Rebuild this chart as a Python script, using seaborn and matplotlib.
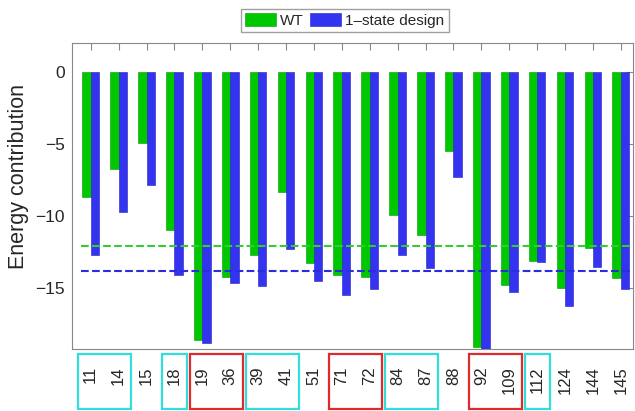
import matplotlib
matplotlib.use("Agg")
import matplotlib.pyplot as plt
from matplotlib.patches import Rectangle, Patch
import pandas as pd
import seaborn as sns

residues = ["11", "14", "15", "18", "19", "36", "39", "41", "51", "71",
            "72", "84", "87", "88", "92", "109", "112", "124", "144", "145"]
wt = [-8.7, -6.7, -4.9, -10.95, -18.6, -14.25, -12.7, -8.3, -13.25, -14.05,
      -14.25, -9.9, -11.3, -5.5, -19.1, -14.75, -13.1, -14.95, -12.2, -14.3]
design = [-12.7, -9.7, -7.85, -14.1, -18.8, -14.65, -14.85, -12.3, -14.5, -15.45,
          -15.05, -12.7, -13.6, -7.25, -19.6, -15.25, -13.2, -16.2, -13.5, -15.05]
wt_mean = -12.1
design_mean = -13.8

# residue groups boxed under the axis: (first index, last index)
cyan_groups = [(0, 1), (3, 3), (6, 7), (11, 12), (16, 16)]
red_groups = [(4, 5), (9, 10), (14, 15)]

green = "#00c800"
blue = "#3333f0"

df = pd.DataFrame({
    "residue": residues * 2,
    "energy": wt + design,
    "state": ["WT"] * len(wt) + ["1\u2013state design"] * len(design),
})

sns.set_style("white")
plt.rcParams["font.family"] = ["Liberation Sans", "DejaVu Sans"]

fig = plt.figure(figsize=(6.35, 4.11), dpi=100)
ax = fig.add_axes([0.113, 0.150, 0.884, 0.745])

sns.barplot(data=df, x="residue", y="energy", hue="state", order=residues,
            palette=[green, blue], width=0.6, saturation=1, ax=ax,
            edgecolor="none", linewidth=0)
for bars, col in zip(ax.containers, ["#009a00", "#2020c0"]):
    for b in bars:
        b.set_edgecolor(col)
        b.set_linewidth(0.4)

ax.axhline(wt_mean, xmin=0.016, color="#33cc33", ls="--", lw=1.5, zorder=5)
ax.axhline(design_mean, xmin=0.016, color="#2b2be0", ls="--", lw=1.5, zorder=5)

ax.set_xlim(-0.68, 19.44)
ax.set_ylim(-19.24, 2.0)
ax.set_yticks([0, -5, -10, -15])
ax.set_xlabel("")
ax.set_ylabel("Energy contribution", fontsize=15.5)
ax.yaxis.set_label_coords(-0.076, 0.566)
ax.tick_params(axis="y", labelsize=12.5, direction="in", length=5,
               color="#888888", pad=5, right=True)
ax.tick_params(axis="x", labelsize=12, direction="in", length=5,
               color="#888888", pad=12, top=True, labelrotation=90)
for s in ax.spines.values():
    s.set_color("#888888")
    s.set_linewidth(0.8)
    s.set_visible(True)

trans = ax.get_xaxis_transform()
for groups, col in [(cyan_groups, "#33dddd"), (red_groups, "#dd2a2a")]:
    for a, b in groups:
        ax.add_patch(Rectangle((a - 0.45, -0.195), b - a + 0.9, 0.18,
                               transform=trans, fill=False, edgecolor=col,
                               lw=1.6, clip_on=False))

ax.get_legend().remove()
handles = [Patch(facecolor=green, edgecolor="#009a00", lw=0.4),
           Patch(facecolor=blue, edgecolor="#2020c0", lw=0.4)]
fig.legend(handles, ["WT", "1\u2013state design"], loc="center",
           bbox_to_anchor=(0.543, 0.95), ncol=2, fontsize=11, frameon=True,
           fancybox=False, edgecolor="#888888", handlelength=2.0,
           handleheight=0.9, handletextpad=0.3, columnspacing=0.4,
           borderpad=0.3, borderaxespad=0)

fig.savefig("out.png", dpi=100)
